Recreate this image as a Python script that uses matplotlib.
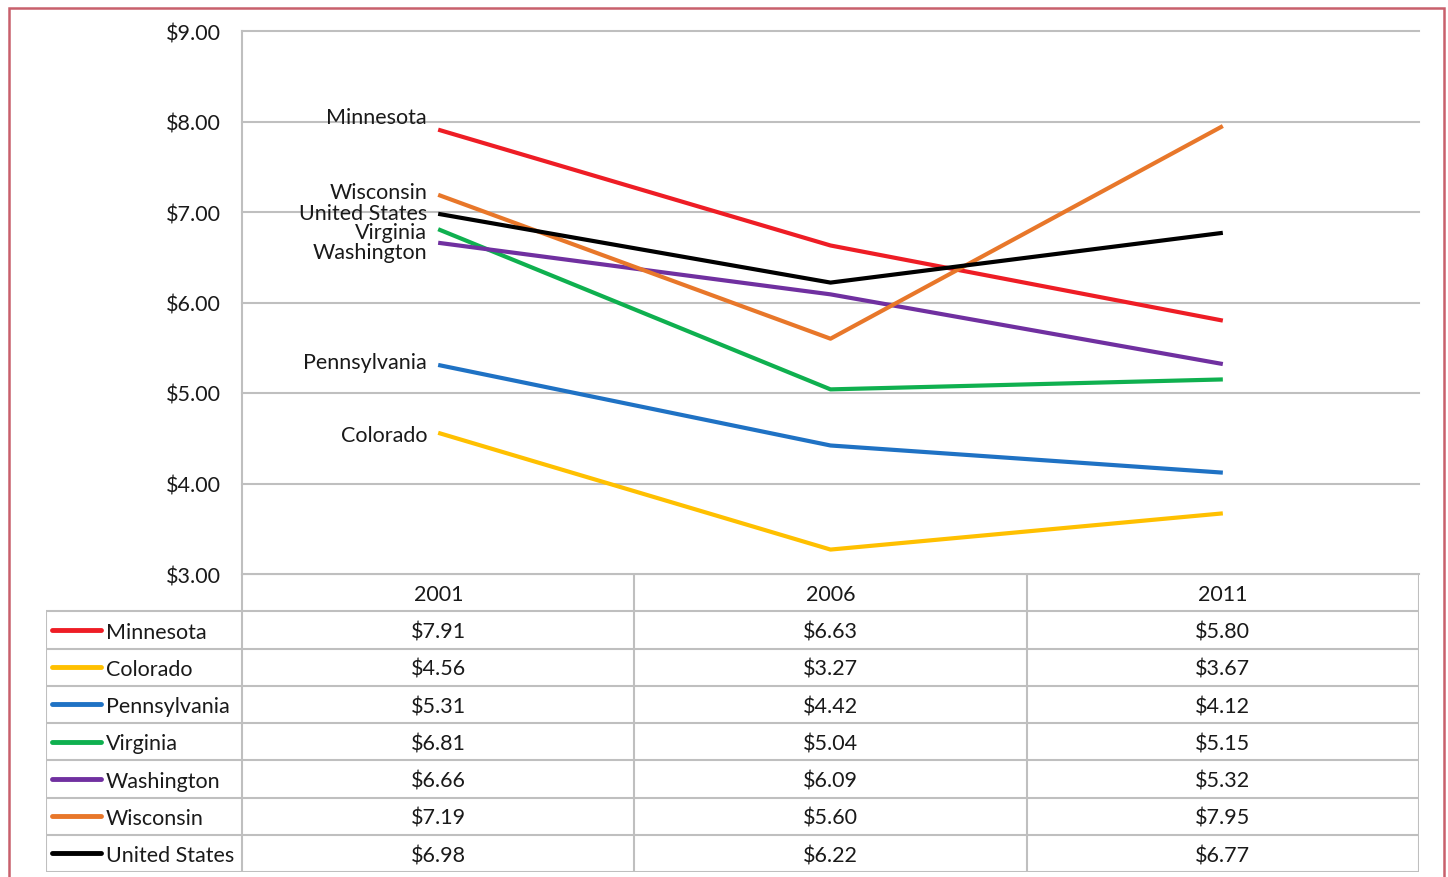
import numpy as np
import matplotlib.pyplot as plt
from matplotlib.patches import Rectangle

plt.rcParams['font.family'] = ['Lato', 'DejaVu Sans']

years = ['2001', '2006', '2011']
states = ['Minnesota', 'Colorado', 'Pennsylvania', 'Virginia',
          'Washington', 'Wisconsin', 'United States']
minnesota = [7.91, 6.63, 5.80]
colorado = [4.56, 3.27, 3.67]
pennsylvania = [5.31, 4.42, 4.12]
virginia = [6.81, 5.04, 5.15]
washington = [6.66, 6.09, 5.32]
wisconsin = [7.19, 5.60, 7.95]
united_states = [6.98, 6.22, 6.77]
series = [minnesota, colorado, pennsylvania, virginia,
          washington, wisconsin, united_states]
colors = ['#EE1D25', '#FFC000', '#1F72C4', '#0FB04F',
          '#7030A0', '#E8772A', '#000000']
# where the state names sit next to the 2001 points
label_y = [8.05, 4.54, 5.34, 6.78, 6.56, 7.22, 6.99]

W, H = 1448, 878
fs = 15.5
grid_c = '#BFBFBF'
txt_c = '#1a1a1a'

fig = plt.figure(figsize=(W / 100, H / 100), dpi=100)

# chart area
ax = fig.add_axes([242 / W, 1 - 575 / H, (1419 - 242) / W, (575 - 32) / H])
x = np.arange(len(years))
for vals, c in zip(series, colors):
    ax.plot(x, vals, color=c, lw=3, solid_capstyle='butt', zorder=3)
for name, ly in zip(states, label_y):
    ax.annotate(name, xy=(0, ly), xytext=(-8, 0), textcoords='offset points',
                ha='right', va='center', fontsize=fs, color=txt_c, zorder=4)
ax.set_xlim(-0.5, 2.5)
ax.set_ylim(3, 9)
ax.set_yticks(np.arange(3, 10, 1))
ax.set_yticklabels(['$%.2f' % v for v in np.arange(3, 10, 1)], fontsize=fs, color=txt_c)
ax.set_xticks([])
ax.tick_params(axis='y', length=0, pad=15)
ax.grid(axis='y', color=grid_c, lw=1.5, clip_on=False)
ax.set_axisbelow(True)
for s in ['top', 'right', 'bottom']:
    ax.spines[s].set_visible(False)
ax.spines['left'].set_color(grid_c)
ax.spines['left'].set_linewidth(1.5)
ax.patch.set_alpha(0)

# data table under the chart, columns line up with the categories
tax = fig.add_axes([46 / W, 1 - 873 / H, (1419 - 46) / W, (873 - 575) / H])
tax.set_xlim(-1, 2.5)
tax.set_ylim(len(states) + 1, 0)
tax.axis('off')
nrows = len(states) + 1
tax.hlines(0, -0.5, 2.5, color=grid_c, lw=1.5)
tax.hlines(np.arange(1, nrows + 1), -1, 2.5, color=grid_c, lw=1.5)
tax.vlines(-1, 1, nrows, color=grid_c, lw=1.5)
tax.vlines([-0.5, 0.5, 1.5, 2.5], 0, nrows, color=grid_c, lw=1.5)
for j, yr in enumerate(years):
    tax.text(j, 0.55, yr, ha='center', va='center', fontsize=fs, color=txt_c)
for i, (name, vals, c) in enumerate(zip(states, series, colors)):
    yc = i + 1.55
    tax.plot([-0.985, -0.86], [yc - 0.05, yc - 0.05], color=c, lw=3.5, solid_capstyle='round')
    tax.text(-0.848, yc, name, ha='left', va='center', fontsize=fs, color=txt_c)
    for j, v in enumerate(vals):
        tax.text(j, yc, '$%.2f' % v, ha='center', va='center', fontsize=fs, color=txt_c)

# page frame
fig.patches.append(Rectangle((8.5 / W, -0.05), (1444 - 8.5) / W, 1.05 - 9 / H,
                             transform=fig.transFigure, fill=False,
                             edgecolor='#C8606C', lw=1.8))

fig.savefig('out.png', dpi=100)
